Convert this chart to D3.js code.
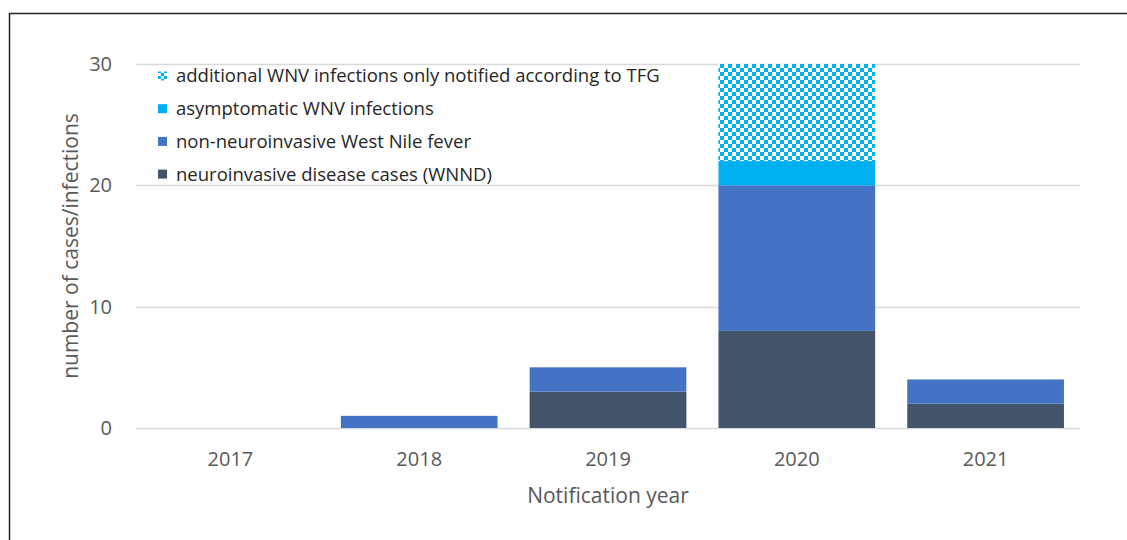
<!DOCTYPE html>
<html>
<head>
<meta charset="utf-8">
<script src="https://cdn.jsdelivr.net/npm/d3@7"></script>
<style>
  body { margin: 0; background: #fff; }
  text { font-family: "Open Sans", sans-serif; }
</style>
</head>
<body>
<script>
// chart data
var years = ["2017", "2018", "2019", "2020", "2021"];
var neuroinvasive = [0, 0, 3, 8, 2];
var nonNeuroinvasive = [0, 1, 2, 12, 2];
var asymptomatic = [0, 0, 0, 2, 0];
var additionalTFG = [0, 0, 0, 8, 0];
var yTicks = [0, 10, 20, 30];

var seriesNames = [
    "neuroinvasive disease cases (WNND)",
    "non-neuroinvasive West Nile fever",
    "asymptomatic WNV infections",
    "additional WNV infections only notified according to TFG"
];
var seriesKeys = ["neuro", "nonneuro", "asym", "add"];
var colors = { neuro: "#44546a", nonneuro: "#4472c4", asym: "#00b0f0", add: "url(#checker)" };

var width = 1127, height = 540;
var margin = { left: 136, right: 47, top: 64, bottom: 112 };

var svg = d3.select("body").append("svg")
    .attr("width", width)
    .attr("height", height);

// checker pattern for the TFG series
var defs = svg.append("defs");
var pat = defs.append("pattern")
    .attr("id", "checker")
    .attr("patternUnits", "userSpaceOnUse")
    .attr("width", 8)
    .attr("height", 8);
pat.append("rect").attr("width", 8).attr("height", 8).attr("fill", "#ffffff");
pat.append("rect").attr("width", 4).attr("height", 4).attr("fill", "#00b0f0");
pat.append("rect").attr("x", 4).attr("y", 4).attr("width", 4).attr("height", 4).attr("fill", "#00b0f0");

var lpat = defs.append("pattern")
    .attr("id", "legendChecker")
    .attr("patternUnits", "userSpaceOnUse")
    .attr("width", 6)
    .attr("height", 6);
lpat.append("rect").attr("width", 6).attr("height", 6).attr("fill", "#ffffff");
lpat.append("rect").attr("width", 3).attr("height", 3).attr("fill", "#00b0f0");
lpat.append("rect").attr("x", 3).attr("y", 3).attr("width", 3).attr("height", 3).attr("fill", "#00b0f0");

// frame
svg.append("path")
    .attr("d", "M9.5," + height + "V13.5H" + width)
    .attr("fill", "none")
    .attr("stroke", "#222")
    .attr("stroke-width", 1.5);

var table = years.map(function(y, i) {
    return { year: y, neuro: neuroinvasive[i], nonneuro: nonNeuroinvasive[i], asym: asymptomatic[i], add: additionalTFG[i] };
});
var stacked = d3.stack().keys(seriesKeys)(table);

var x = d3.scaleBand()
    .domain(years)
    .range([margin.left, width - margin.right])
    .paddingInner(0.17)
    .paddingOuter(0.085);

var y = d3.scaleLinear()
    .domain([0, 30])
    .range([height - margin.bottom, margin.top]);

// gridlines
svg.append("g")
    .selectAll("line")
    .data(yTicks)
    .enter().append("line")
    .attr("x1", margin.left)
    .attr("x2", width - margin.right)
    .attr("y1", function(d) { return Math.round(y(d)) + 0.5; })
    .attr("y2", function(d) { return Math.round(y(d)) + 0.5; })
    .attr("stroke", "#d9d9d9")
    .attr("stroke-width", 1.5);

// bars
svg.append("g")
    .selectAll("g")
    .data(stacked)
    .enter().append("g")
    .attr("fill", function(d) { return colors[d.key]; })
    .selectAll("rect")
    .data(function(d) { return d; })
    .enter().append("rect")
    .attr("x", function(d) { return x(d.data.year); })
    .attr("width", x.bandwidth())
    .attr("y", function(d) { return y(d[1]); })
    .attr("height", function(d) { return y(d[0]) - y(d[1]); });

// y axis labels
var yAxis = d3.axisLeft(y).tickValues(yTicks).tickSize(0).tickPadding(24);
var gy = svg.append("g")
    .attr("transform", "translate(" + margin.left + ",0)")
    .call(yAxis);
gy.select(".domain").remove();
gy.selectAll("text")
    .attr("font-size", 20)
    .attr("fill", "#595959")
    .attr("font-family", "Open Sans, sans-serif");

// x axis labels
var xAxis = d3.axisBottom(x).tickSize(0).tickPadding(24);
var gx = svg.append("g")
    .attr("transform", "translate(0," + (height - margin.bottom) + ")")
    .call(xAxis);
gx.select(".domain").remove();
gx.selectAll("text")
    .attr("font-size", 20)
    .attr("fill", "#595959")
    .attr("font-family", "Open Sans, sans-serif");

// axis titles
svg.append("text")
    .attr("x", (margin.left + width - margin.right) / 2)
    .attr("y", 503)
    .attr("text-anchor", "middle")
    .attr("font-size", 21)
    .attr("fill", "#595959")
    .text("Notification year");

svg.append("text")
    .attr("transform", "translate(78,246) rotate(-90)")
    .attr("text-anchor", "middle")
    .attr("font-size", 21)
    .attr("fill", "#595959")
    .text("number of cases/infections");

// legend, top entry is the last series
var legendRows = seriesKeys.slice().reverse();
var legend = svg.append("g")
    .selectAll("g")
    .data(legendRows)
    .enter().append("g")
    .attr("transform", function(d, i) { return "translate(158," + (76 + i * 32.7) + ")"; });

legend.append("rect")
    .attr("y", -4.5)
    .attr("width", 9)
    .attr("height", 9)
    .attr("fill", function(d) { return d === "add" ? "url(#legendChecker)" : colors[d]; });

legend.append("text")
    .attr("x", 18)
    .attr("dy", "0.35em")
    .attr("font-size", 18.5)
    .attr("fill", "#262626")
    .text(function(d) { return seriesNames[seriesKeys.indexOf(d)]; });
</script>
</body>
</html>
